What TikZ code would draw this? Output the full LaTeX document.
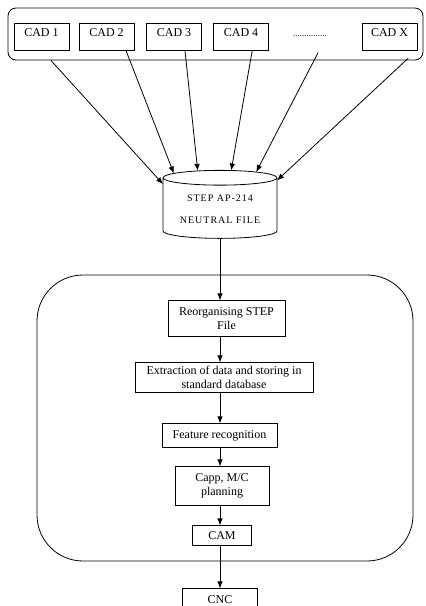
\documentclass[tikz,border=0pt]{standalone}
\usepackage{fontspec}
\setmainfont{Liberation Serif}
\usetikzlibrary{shapes.geometric,arrows.meta,positioning}
\tikzstyle{cadbox} = [rectangle, draw, line width=0.8pt, minimum width=55pt,
    minimum height=27pt, text height=10.5pt, text depth=10.5pt, inner sep=3pt,
    font=\fontsize{12}{13.5}\selectfont]
\tikzstyle{block} = [rectangle, draw, line width=0.8pt, align=center, inner sep=2pt,
    font=\fontsize{12}{13.5}\selectfont]
\tikzstyle{line} = [draw, line width=0.8pt, ->, >={Latex[length=7pt,width=5.5pt]}]

\begin{document}
\begin{tikzpicture}[x=1pt, y=-1pt, outer sep=0pt]
    \useasboundingbox (0,0) rectangle (426,606);

    % Place nodes
    \node [cadbox] (cad1) at (41.5,36.5) {CAD 1};
    \node [cadbox, right=10pt of cad1] (cad2) {CAD 2};
    \node [cadbox, right=12.5pt of cad2] (cad3) {CAD 3};
    \node [cadbox, right=12pt of cad3] (cad4) {CAD 4};
    \node [cadbox, draw=none, minimum width=34pt, font=\fontsize{9}{10}\selectfont] (dots) at (310,36.5) {...............};
    \node [cadbox] (cadx) at (389.5,36.5) {CAD X};

    \node [cylinder, shape border rotate=90, draw, line width=0.8pt, aspect=0.17,
        minimum width=114pt, minimum height=68pt, align=center,
        font=\fontsize{10}{11}\selectfont\addfontfeature{LetterSpace=10}] (neutral) at (220,209.5)
        {STEP AP-214\\[11pt]NEUTRAL FILE};

    \node [block, minimum width=117pt, minimum height=36pt, below=62pt of neutral, xshift=6.5pt] (reorg) {Reorganising STEP\\File};
    \node [block, minimum width=178pt, minimum height=30pt, below=26pt of reorg, xshift=-2.5pt] (extract) {Extraction of data and storing in\\standard database};
    \node [block, minimum width=115pt, minimum height=24pt, below=31pt of extract, xshift=-4.5pt] (feature) {Feature recognition};
    \node [block, minimum width=94pt, minimum height=39pt, below=19pt of feature, xshift=2.5pt] (capp) {Capp, M/C\\planning};
    \node [block, minimum width=59pt, minimum height=20pt, below=20pt of capp] (cam) {CAM};
    \node [block, minimum width=75pt, text height=13pt, text depth=15pt, inner ysep=2pt, below=43pt of cam, xshift=-2pt] (cnc) {CNC};

    % Group frames
    \draw [line width=0.8pt, rounded corners=8pt] (8,8) rectangle (423,60);
    \draw [line width=0.8pt, rounded corners=46pt] (37,275) rectangle (413,561);

    % CAD files to neutral file
    \draw [line, shorten <=14pt] (cad1.south) -- (neutral.156);
    \draw [line] (cad2.-35) -- (neutral.142);
    \draw [line] (cad3.-51) -- (neutral.120);
    \draw [line] (cad4.-50) -- (neutral.74);
    \draw [line, shorten <=3pt] (dots.-55) -- (neutral.46);
    \draw [line, shorten <=12pt] (cadx.south east) -- (neutral.27);

    % Process chain
    \draw [line] (neutral.south) -- (neutral.south |- reorg.north);
    \draw [line] (reorg.south -| neutral.south) -- (neutral.south |- extract.north);
    \draw [line] (extract.south -| neutral.south) -- (neutral.south |- feature.north);
    \draw [line] (feature.south -| neutral.south) -- (neutral.south |- capp.north);
    \draw [line] (capp.south -| neutral.south) -- (neutral.south |- cam.north);
    \draw [line] (cam.south -| neutral.south) -- (neutral.south |- cnc.north);

\end{tikzpicture}
\end{document}
